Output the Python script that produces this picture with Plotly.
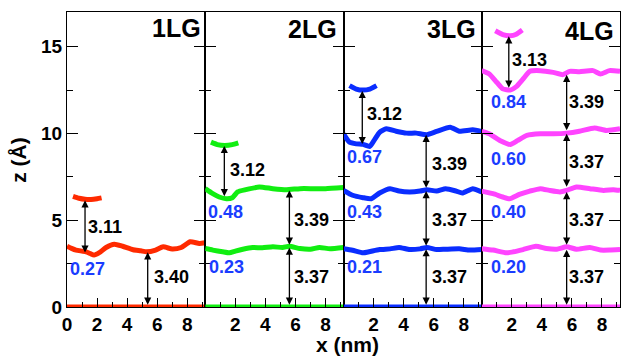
import plotly.graph_objects as go
from plotly.subplots import make_subplots

# ---------------- data ----------------
PANELS = ["1LG", "2LG", "3LG", "4LG"]
COLORS = ["#ff2a00", "#11ee11", "#0a2dff", "#ff44ff"]
X_RANGE = [0, 9.2]
Z_RANGE = [0, 17]
X_TICKS_FIRST = [0, 2, 4, 6, 8]
X_TICKS_OTHER = [2, 4, 6, 8]
Z_TICKS = [0, 5, 10, 15]

# substrate line (z = 0) common to all panels
BASE_X = [0.0, 9.2]
BASE_Z = [0.0, 0.0]

# 1LG
P1_L1_X = [0, 0.3, 0.6, 1.0, 1.27, 1.55, 1.8, 2.15, 2.6, 3.15, 3.7, 4.4, 4.9, 5.3, 5.9, 6.4, 7.0, 7.6, 8.2, 8.8, 9.2]
P1_L1_Z = [3.5, 3.38, 3.28, 3.22, 3.18, 3.08, 2.99, 3.13, 3.43, 3.62, 3.5, 3.3, 3.24, 3.18, 3.28, 3.47, 3.34, 3.43, 3.76, 3.66, 3.7]
P1_ARC_X = [0.4, 0.8, 1.2, 1.6, 2.0, 2.3]
P1_ARC_Z = [6.38, 6.27, 6.21, 6.2, 6.24, 6.29]

# 2LG
P2_L1_X = [0, 0.5, 1.15, 1.6, 2.0, 2.5, 3.15, 3.8, 4.5, 5.15, 5.6, 6.3, 7.0, 7.6, 8.3, 9.2]
P2_L1_Z = [3.37, 3.28, 3.18, 3.12, 3.22, 3.33, 3.43, 3.41, 3.47, 3.43, 3.5, 3.37, 3.33, 3.43, 3.36, 3.43]
P2_L2_X = [0, 0.5, 0.93, 1.4, 1.8, 2.15, 2.7, 3.6, 4.5, 5.4, 6.3, 7.2, 8.0, 9.2]
P2_L2_Z = [6.82, 6.53, 6.34, 6.24, 6.3, 6.63, 6.76, 6.92, 6.82, 6.76, 6.82, 6.82, 6.82, 6.88]
P2_ARC_X = [0.38, 0.8, 1.3, 1.8, 2.2]
P2_ARC_Z = [9.5, 9.36, 9.31, 9.36, 9.46]

# 3LG
P3_L1_X = [0, 0.6, 1.3, 1.7, 2.4, 3.1, 3.7, 4.4, 5.1, 5.55, 6.2, 6.8, 7.7, 8.4, 9.2]
P3_L1_Z = [3.36, 3.27, 3.12, 3.18, 3.31, 3.35, 3.43, 3.31, 3.35, 3.43, 3.31, 3.33, 3.35, 3.28, 3.31]
P3_L2_X = [0, 0.6, 1.3, 1.85, 2.4, 3.1, 3.7, 4.4, 5.1, 5.55, 6.2, 6.8, 7.5, 7.9, 8.6, 9.2]
P3_L2_Z = [6.72, 6.44, 6.3, 6.24, 6.57, 6.82, 6.68, 6.63, 6.68, 6.76, 6.68, 6.82, 6.68, 6.57, 6.82, 6.63]
P3_L3_X = [0, 0.4, 0.85, 1.3, 1.75, 2.1, 2.4, 2.85, 3.5, 4.2, 4.85, 5.55, 6.2, 7.1, 7.7, 8.6, 9.2]
P3_L3_Z = [9.98, 9.5, 9.4, 9.37, 9.25, 9.69, 10.07, 10.27, 10.13, 10.02, 10.02, 9.93, 10.12, 10.36, 10.13, 10.21, 10.12]
P3_ARC_X = [0.4, 0.85, 1.3, 1.75, 2.2]
P3_ARC_Z = [12.76, 12.56, 12.5, 12.56, 12.76]

# 4LG
P4_L1_X = [0, 0.75, 1.65, 2.1, 2.75, 3.6, 4.3, 5.0, 5.65, 6.3, 7.2, 7.9, 8.5, 9.2]
P4_L1_Z = [3.36, 3.28, 3.12, 3.18, 3.31, 3.5, 3.37, 3.33, 3.47, 3.33, 3.43, 3.28, 3.28, 3.31]
P4_L2_X = [0, 0.75, 1.4, 1.85, 2.5, 3.2, 3.9, 4.5, 5.2, 5.65, 6.3, 7.2, 8.1, 8.75, 9.2]
P4_L2_Z = [6.68, 6.53, 6.34, 6.24, 6.49, 6.68, 6.82, 6.72, 6.63, 6.72, 6.92, 6.82, 6.72, 6.76, 6.72]
P4_L3_X = [0, 0.5, 1.2, 1.9, 2.4, 3.0, 3.9, 4.75, 5.65, 6.5, 7.5, 8.3, 9.2]
P4_L3_Z = [10.12, 9.98, 9.6, 9.37, 9.6, 9.89, 9.98, 9.98, 10.02, 10.13, 10.32, 10.17, 10.27]
P4_L4_X = [0, 0.5, 1.0, 1.4, 1.9, 2.3, 2.75, 3.2, 3.9, 4.75, 5.4, 5.85, 6.5, 7.4, 7.9, 8.5, 9.2]
P4_L4_Z = [13.62, 13.43, 12.95, 12.57, 12.5, 12.7, 13.14, 13.58, 13.62, 13.52, 13.39, 13.58, 13.56, 13.62, 13.43, 13.62, 13.58]
P4_ARC_X = [0.9, 1.4, 1.9, 2.3, 2.7]
P4_ARC_Z = [15.92, 15.7, 15.63, 15.72, 15.96]

# interlayer-gap arrows: panel, x, z_bottom, z_top, label, label x, label z
GAP_PANEL = [0, 0, 1, 1, 1, 2, 2, 2, 2, 3, 3, 3, 3, 3]
GAP_X = [1.2, 5.37, 1.27, 5.6, 5.6, 1.25, 5.5, 5.5, 5.5, 1.8, 5.65, 5.65, 5.65, 5.65]
GAP_Z0 = [3.05, 0.05, 6.3, 3.5, 0.05, 9.3, 6.78, 3.45, 0.05, 12.55, 10.1, 6.85, 3.5, 0.05]
GAP_Z1 = [6.15, 3.15, 9.28, 6.72, 3.42, 12.45, 9.92, 6.68, 3.33, 15.6, 13.38, 9.98, 6.62, 3.3]
GAP_TEXT = ["3.11", "3.40", "3.12", "3.39", "3.37", "3.12", "3.39", "3.37", "3.37",
            "3.13", "3.39", "3.37", "3.37", "3.37"]
GAP_TX = [2.55, 6.93, 2.8, 7.05, 7.05, 2.73, 7.07, 7.07, 7.07, 3.2, 6.98, 6.98, 6.98, 6.98]
GAP_TZ = [4.6, 1.74, 7.87, 5.0, 1.74, 11.13, 8.26, 5.0, 1.74, 14.23, 11.8, 8.35, 5.0, 1.74]

# corrugation labels (blue)
CORR_PANEL = [0, 1, 1, 2, 2, 2, 3, 3, 3, 3]
CORR_TEXT = ["0.27", "0.48", "0.23", "0.67", "0.43", "0.21", "0.84", "0.60", "0.40", "0.20"]
CORR_X = [1.37, 1.38, 1.4, 1.4, 1.4, 1.42, 1.76, 1.76, 1.76, 1.8]
CORR_Z = [2.18, 5.48, 2.3, 8.64, 5.48, 2.3, 11.8, 8.55, 5.48, 2.3]

TITLE_X = [7.27, 7.15, 7.18, 7.2]
TITLE_Z = [16.1, 16.0, 16.0, 15.9]

# ---------------- figure ----------------
FONT = "Liberation Sans, Arial, Helvetica, sans-serif"
LABEL_BLUE = "#1a3cff"

SERIES = [
    (0, BASE_X, BASE_Z), (0, P1_L1_X, P1_L1_Z), (0, P1_ARC_X, P1_ARC_Z),
    (1, BASE_X, BASE_Z), (1, P2_L1_X, P2_L1_Z), (1, P2_L2_X, P2_L2_Z), (1, P2_ARC_X, P2_ARC_Z),
    (2, BASE_X, BASE_Z), (2, P3_L1_X, P3_L1_Z), (2, P3_L2_X, P3_L2_Z), (2, P3_L3_X, P3_L3_Z),
    (2, P3_ARC_X, P3_ARC_Z),
    (3, BASE_X, BASE_Z), (3, P4_L1_X, P4_L1_Z), (3, P4_L2_X, P4_L2_Z), (3, P4_L3_X, P4_L3_Z),
    (3, P4_L4_X, P4_L4_Z), (3, P4_ARC_X, P4_ARC_Z),
]

fig = make_subplots(rows=1, cols=4, shared_yaxes=True, horizontal_spacing=0)

for p, xs, zs in SERIES:
    fig.add_trace(
        go.Scatter(x=xs, y=zs, mode="lines",
                   line=dict(color=COLORS[p], width=5, shape="spline", smoothing=0.5),
                   showlegend=False, hoverinfo="skip"),
        row=1, col=p + 1)

def refs(p):
    s = "" if p == 0 else str(p + 1)
    return "x" + s, "y" + s

annotations = []
for i in range(len(GAP_X)):
    xr, yr = refs(GAP_PANEL[i])
    annotations.append(dict(
        x=GAP_X[i], y=GAP_Z1[i], ax=GAP_X[i], ay=GAP_Z0[i],
        xref=xr, yref=yr, axref=xr, ayref=yr, text="",
        showarrow=True, arrowhead=2, arrowsize=1.1, arrowwidth=1.3,
        arrowside="end+start", startarrowhead=2, startarrowsize=1.1,
        arrowcolor="black", standoff=0, startstandoff=0))
    annotations.append(dict(
        x=GAP_TX[i], y=GAP_TZ[i], xref=xr, yref=yr, text=GAP_TEXT[i],
        showarrow=False, font=dict(family=FONT, size=18, color="black", weight="bold")))

for i in range(len(CORR_X)):
    xr, yr = refs(CORR_PANEL[i])
    annotations.append(dict(
        x=CORR_X[i], y=CORR_Z[i], xref=xr, yref=yr, text=CORR_TEXT[i],
        showarrow=False, font=dict(family=FONT, size=18, color=LABEL_BLUE, weight="bold")))

for p in range(4):
    xr, yr = refs(p)
    annotations.append(dict(
        x=TITLE_X[p], y=TITLE_Z[p], xref=xr, yref=yr, text=PANELS[p],
        showarrow=False, font=dict(family=FONT, size=25, color="black", weight="bold")))

annotations.append(dict(
    x=0.508, y=-0.127, xref="paper", yref="paper", text="x (nm)", showarrow=False,
    xanchor="center", yanchor="middle",
    font=dict(family=FONT, size=21, color="black", weight="bold")))
annotations.append(dict(
    x=-0.088, y=0.5, xref="paper", yref="paper", text="z (Å)", showarrow=False,
    xanchor="center", yanchor="middle",
    textangle=-90, font=dict(family=FONT, size=21, color="black", weight="bold")))

tickfont = dict(family=FONT, size=19, color="black", weight="bold")
for p in range(4):
    fig.update_xaxes(
        range=X_RANGE, tickvals=X_TICKS_FIRST if p == 0 else X_TICKS_OTHER,
        ticks="inside", ticklen=9, tickwidth=1, tickcolor="black",
        minor=dict(tickvals=[1, 3, 5, 7, 9], ticks="inside", ticklen=5, tickcolor="black",
                   showgrid=False),
        showline=True, linecolor="black", linewidth=1, mirror=True,
        showgrid=False, zeroline=False, tickfont=tickfont,
        row=1, col=p + 1)
    fig.update_yaxes(
        range=Z_RANGE, tickvals=Z_TICKS,
        ticks="inside", ticklen=11, tickwidth=1, tickcolor="black",
        minor=dict(tickvals=[2.5, 7.5, 12.5], ticks="inside", ticklen=6, tickcolor="black",
                   showgrid=False),
        showline=True, linecolor="black", linewidth=1, mirror="ticks",
        showgrid=False, zeroline=False, tickfont=tickfont,
        showticklabels=(p == 0),
        row=1, col=p + 1)

fig.update_layout(
    width=621, height=357,
    margin=dict(l=67, r=1, t=12, b=50),
    paper_bgcolor="white", plot_bgcolor="white",
    annotations=annotations, showlegend=False)

# remove the default page margin so the figure fills the window exactly
fig.write_html("out.html", config={"displayModeBar": False},
               post_script="document.body.style.margin='0';document.body.style.overflow='hidden';")
